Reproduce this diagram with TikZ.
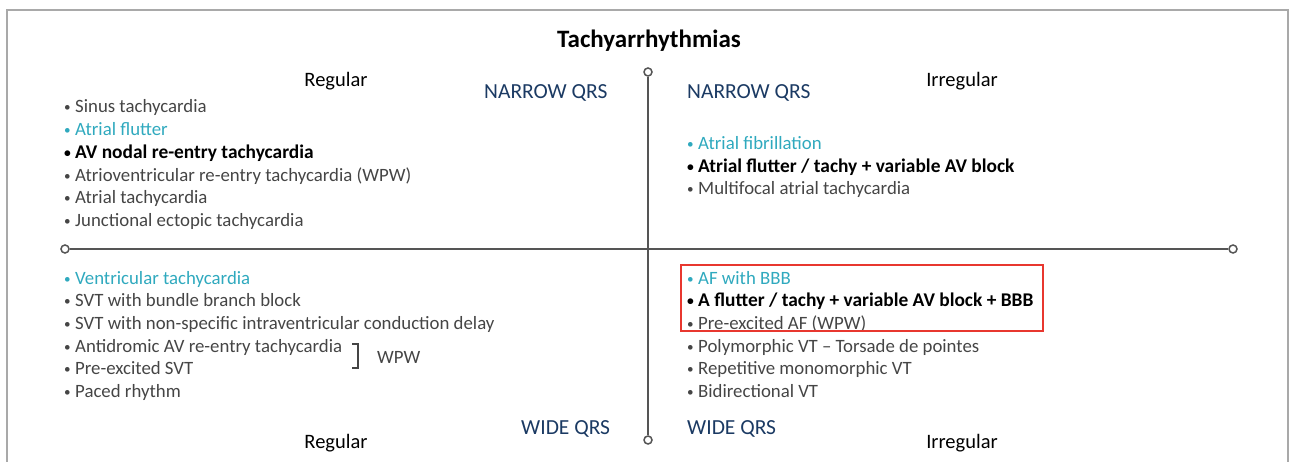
\documentclass[tikz,border=0pt]{standalone}
\usepackage{fontspec}
\setmainfont{Carlito}
\usetikzlibrary{positioning}

\definecolor{framegray}{HTML}{A9A9A9}
\definecolor{axisgray}{HTML}{555555}
\definecolor{txtgray}{HTML}{454545}
\definecolor{teal}{HTML}{2FA9BE}
\definecolor{navy}{HTML}{1B3A63}
\definecolor{boxred}{HTML}{E8372F}

\newcommand{\bl}{\makebox[11pt][l]{\raisebox{1pt}{\scalebox{0.7}{\textbullet}}}}

\tikzset{
    entry/.style={anchor=base west, inner sep=0pt, text=txtgray, font=\fontsize{18.8}{22}\selectfont},
    hot/.style={entry, text=teal},
    strong/.style={entry, text=black, font=\fontsize{19.4}{22}\selectfont\bfseries},
    qrs/.style={anchor=base west, inner sep=0pt, text=navy, font=\fontsize{21.5}{24}\selectfont},
    side/.style={anchor=base, inner sep=0pt, text=black, font=\fontsize{20.5}{24}\selectfont},
    endpt/.style={circle, draw=axisgray, line width=1.5pt, fill=white, inner sep=0pt, minimum size=8pt},
    axis/.style={axisgray, line width=2pt}
}

\begin{document}
\begin{tikzpicture}[x=1pt, y=-1pt]
    \useasboundingbox (0,0) rectangle (1292,462);
    \draw[framegray, line width=2.5pt] (7,462) -- (7,10) -- (1288,10) -- (1288,462);

    \node[anchor=base, inner sep=0pt, font=\fontsize{25}{28}\selectfont\bfseries] (title) at (649,48) {Tachyarrhythmias};

    % axes
    \node[endpt] (top) at (648,72) {};
    \node[endpt] (bot) at (648,440) {};
    \node[endpt] (lft) at (65,249) {};
    \node[endpt] (rgt) at (1233,249) {};
    \draw[axis] (top) -- (bot);
    \draw[axis] (lft) -- (rgt);

    \node[side] (regtop) at (336,87) {Regular};
    \node[side] (irrtop) at (962,87) {Irregular};
    \node[side] (regbot) at (336,448) {Regular};
    \node[side] (irrbot) at (962,448) {Irregular};

    \node[qrs] (nq1) at (484,99) {NARROW QRS};
    \node[qrs] (nq2) at (687,99) {NARROW QRS};
    \node[qrs] (wq1) at (521,434) {WIDE QRS};
    \node[qrs] (wq2) at (687,434) {WIDE QRS};

    % narrow, regular
    \node[entry] (a1) at (64,113) {\bl Sinus tachycardia};
    \node[hot] (a2) at (64,136) {\bl Atrial flutter};
    \node[strong] (a3) at (64,159) {\bl AV nodal re-entry tachycardia};
    \node[entry] (a4) at (64,182) {\bl Atrioventricular re-entry tachycardia (WPW)};
    \node[entry] (a5) at (64,204) {\bl Atrial tachycardia};
    \node[entry] (a6) at (64,227) {\bl Junctional ectopic tachycardia};

    % narrow, irregular
    \node[hot] (b1) at (687,150) {\bl Atrial fibrillation};
    \node[strong] (b2) at (687,173) {\bl Atrial flutter / tachy + variable AV block};
    \node[entry] (b3) at (687,195) {\bl Multifocal atrial tachycardia};

    % wide, regular
    \node[hot] (c1) at (64,284) {\bl Ventricular tachycardia};
    \node[entry] (c2) at (64,306) {\bl SVT with bundle branch block};
    \node[entry] (c3) at (64,329) {\bl SVT with non-specific intraventricular conduction delay};
    \node[entry] (c4) at (64,352) {\bl Antidromic AV re-entry tachycardia};
    \node[entry] (c5) at (64,374) {\bl Pre-excited SVT};
    \node[entry] (c6) at (64,397) {\bl Paced rhythm};
    \draw[txtgray, line width=1.2pt] (352,344) -- (358,344) -- (358,368) -- (352,368);
    \node[entry] (wpw) at (377,363) {WPW};

    % wide, irregular
    \node[hot] (d1) at (687,284) {\bl AF with BBB};
    \node[strong] (d2) at (687,306) {\bl A flutter / tachy + variable AV block + BBB};
    \node[entry] (d3) at (687,329) {\bl Pre-excited AF (WPW)};
    \node[entry] (d4) at (687,352) {\bl Polymorphic VT -- Torsade de pointes};
    \node[entry] (d5) at (687,374) {\bl Repetitive monomorphic VT};
    \node[entry] (d6) at (687,397) {\bl Bidirectional VT};
    \draw[boxred, line width=1.5pt] (681,265) rectangle (1043,331);
\end{tikzpicture}
\end{document}
